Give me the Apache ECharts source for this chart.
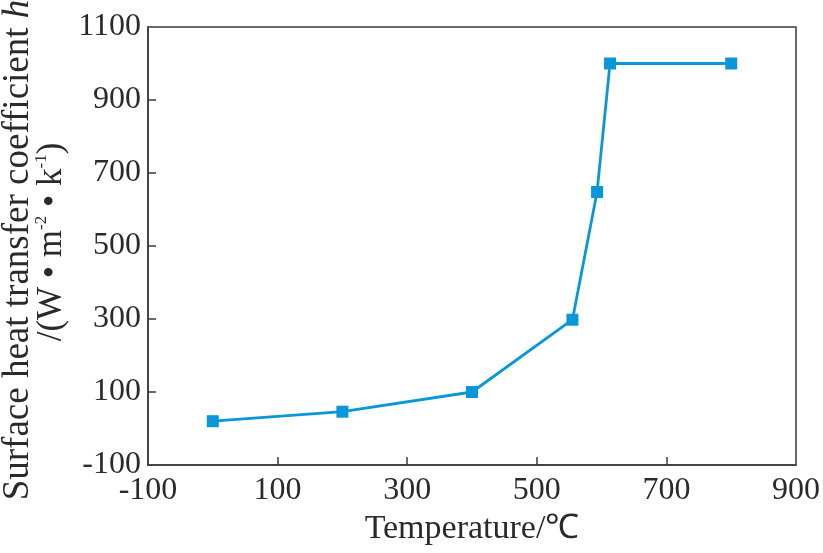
<!DOCTYPE html>
<html>
<head>
<meta charset="utf-8">
<script src="https://cdn.jsdelivr.net/npm/echarts@6/dist/echarts.min.js"></script>
<style>
  html, body { margin: 0; padding: 0; background: #fff; }
  #chart { width: 823px; height: 553px; }
</style>
</head>
<body>
<div id="chart"></div>
<script>
// data
const temperature = [0, 200, 400, 555, 593, 613, 800];
const htc = [20, 46, 100, 298, 648, 1000, 1000];
const xTickLabels = [-100, 100, 300, 500, 700, 900];
const yTickLabels = [-100, 100, 300, 500, 700, 900, 1100];

const FONT = '"Liberation Serif", "Times New Roman", serif';
const AXIS_COLOR = '#3a3a3a';
const TEXT_COLOR = '#2a2a2a';
const LINE_COLOR = '#0a97d9';

const chart = echarts.init(document.getElementById('chart'));

const points = temperature.map((t, i) => [t, htc[i]]);
const inner = (arr) => arr.slice(1, -1);

const option = {
  backgroundColor: '#fff',
  animation: false,
  grid: {
    left: 148, right: 27, top: 27, bottom: 88,
    outerBoundsMode: 'none',
    containLabel: false,
    show: true,
    borderColor: AXIS_COLOR,
    borderWidth: 1.5,
    backgroundColor: 'transparent'
  },
  xAxis: {
    type: 'value',
    min: -100,
    max: 900,
    name: 'Temperature/℃',
    nameLocation: 'middle',
    nameGap: 47,
    nameTextStyle: { fontFamily: FONT, fontSize: 34, color: TEXT_COLOR },
    axisLine: { show: true, onZero: false, lineStyle: { color: AXIS_COLOR, width: 1.5 } },
    axisTick: {
      show: true, inside: true, length: 8,
      customValues: inner(xTickLabels),
      lineStyle: { color: AXIS_COLOR, width: 1.5 }
    },
    axisLabel: {
      customValues: xTickLabels,
      formatter: (v) => String(v),
      margin: 10,
      fontFamily: FONT, fontSize: 32, color: TEXT_COLOR
    },
    splitLine: { show: false }
  },
  yAxis: {
    type: 'value',
    min: -100,
    max: 1100,
    axisLine: { show: true, onZero: false, lineStyle: { color: AXIS_COLOR, width: 1.5 } },
    axisTick: {
      show: true, inside: true, length: 8,
      customValues: inner(yTickLabels),
      lineStyle: { color: AXIS_COLOR, width: 1.5 }
    },
    axisLabel: {
      customValues: yTickLabels,
      formatter: (v) => String(v),
      margin: 7,
      fontFamily: FONT, fontSize: 32, color: TEXT_COLOR
    },
    splitLine: { show: false }
  },
  graphic: [
    {
      type: 'text',
      x: 18, y: 250,
      rotation: Math.PI / 2,
      style: {
        text: '{a|Surface heat transfer coefficient }{i|h}',
        align: 'center',
        verticalAlign: 'middle',
        fill: TEXT_COLOR,
        rich: {
          a: { fontFamily: FONT, fontSize: 37, fill: TEXT_COLOR },
          i: { fontFamily: FONT, fontSize: 37, fontStyle: 'italic', fill: TEXT_COLOR }
        }
      }
    },
    {
      type: 'text',
      x: 52, y: 242,
      rotation: Math.PI / 2,
      style: {
        text: '{a|/(W • m}{s|-2}{a| • k}{s|-1}{a|)}',
        align: 'center',
        verticalAlign: 'middle',
        fill: TEXT_COLOR,
        rich: {
          a: { fontFamily: FONT, fontSize: 35, fill: TEXT_COLOR, lineHeight: 38 },
          s: { fontFamily: FONT, fontSize: 17, fill: TEXT_COLOR, verticalAlign: 'top', lineHeight: 38 }
        }
      }
    }
  ],
  series: [
    {
      type: 'line',
      data: points,
      symbol: 'rect',
      symbolSize: 12,
      lineStyle: { color: LINE_COLOR, width: 2.8 },
      itemStyle: { color: LINE_COLOR }
    }
  ]
};

chart.setOption(option);
</script>
</body>
</html>
